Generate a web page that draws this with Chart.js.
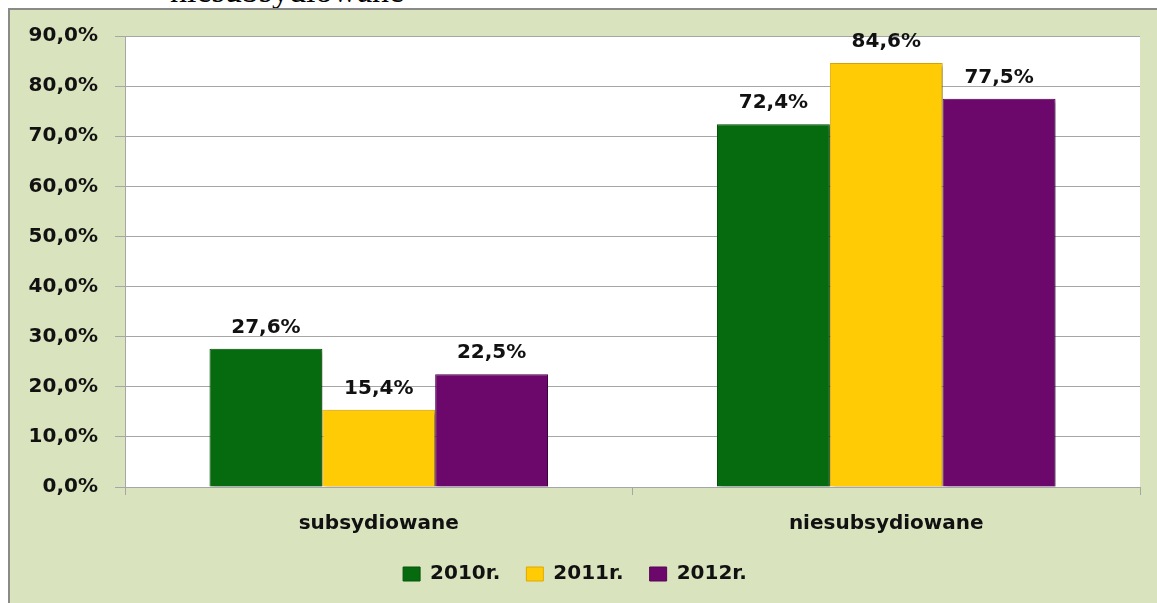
<!DOCTYPE html>
<html>
<head>
<meta charset="utf-8">
<script src="https://cdn.jsdelivr.net/npm/chart.js@4.4.1/dist/chart.umd.min.js"></script>
<style>
  html, body { margin: 0; padding: 0; background: #fff; overflow: hidden; }
  body { width: 1157px; height: 603px; position: relative; }
  #cut-title {
    position: absolute; left: 170px; top: -26px;
    font: 34px "Liberation Serif", serif; line-height: 1; color: #000;
    white-space: nowrap;
  }
  #box {
    position: absolute; left: 8px; top: 8px; width: 1147px; height: 593px;
    background: #d9e4bf; border-left: 2px solid #8a8a8a; border-top: 2px solid #8a8a8a;
  }
  #box canvas { display: block; }
</style>
</head>
<body>
<div id="cut-title">niesubsydiowane</div>
<div id="box"><canvas id="myChart" width="1147" height="593"></canvas></div>
<script>
// data
const categories = ['subsydiowane', 'niesubsydiowane'];
const years = ['2010r.', '2011r.', '2012r.'];
const values2010 = [27.6, 72.4];
const values2011 = [15.4, 84.6];
const values2012 = [22.5, 77.5];
const yTicks = [0, 10, 20, 30, 40, 50, 60, 70, 80, 90];

const FONT = 'DejaVu Sans';

function pct(v) {
    return v.toFixed(1).replace('.', ',') + '%';
}

// white plot area + soft bar shadow
const plotBg = {
    id: 'plotBg',
    beforeDraw(chart) {
        const { ctx, chartArea: a } = chart;
        ctx.save();
        ctx.fillStyle = '#ffffff';
        ctx.fillRect(a.left, a.top, a.right - a.left, a.bottom - a.top);
        ctx.restore();
    },
    beforeDatasetsDraw(chart) {
        const ctx = chart.ctx;
        ctx.save();
        ctx.shadowColor = 'rgba(0,0,0,0.35)';
        ctx.shadowOffsetX = 3;
        ctx.shadowOffsetY = 2;
        ctx.shadowBlur = 4;
    },
    afterDatasetsDraw(chart) {
        chart.ctx.restore();
    }
};

// value labels above the bars
const valueLabels = {
    id: 'valueLabels',
    afterDraw(chart) {
        const ctx = chart.ctx;
        ctx.save();
        ctx.font = 'bold 20px ' + FONT;
        ctx.fillStyle = '#111';
        ctx.textAlign = 'center';
        ctx.textBaseline = 'alphabetic';
        chart.data.datasets.forEach((ds, i) => {
            chart.getDatasetMeta(i).data.forEach((bar, j) => {
                ctx.fillText(pct(ds.data[j]), bar.x, bar.y - 16);
            });
        });
        ctx.restore();
    }
};

const ctx = document.getElementById('myChart').getContext('2d');
const myChart = new Chart(ctx, {
    type: 'bar',
    data: {
        labels: categories,
        datasets: [
            { label: years[0], data: values2010, backgroundColor: '#066b0e', borderColor: '#04550a', borderWidth: 1 },
            { label: years[1], data: values2011, backgroundColor: '#ffcb05', borderColor: '#e0a800', borderWidth: 1 },
            { label: years[2], data: values2012, backgroundColor: '#6c086b', borderColor: '#560556', borderWidth: 1 }
        ]
    },
    options: {
        responsive: false,
        animation: false,
        datasets: {
            bar: { barPercentage: 1, categoryPercentage: 0.667 }
        },
        layout: { padding: { left: 0, right: 17, top: 26, bottom: 9 } },
        scales: {
            y: {
                min: 0,
                max: 90,
                afterBuildTicks(scale) {
                    scale.ticks = yTicks.map(v => ({ value: v }));
                },
                afterFit(scale) {
                    scale.width = 115;
                    scale.paddingTop = 0;
                    scale.paddingBottom = 0;
                },
                grid: { color: '#a6a6a6', lineWidth: 1, tickLength: 10 },
                border: { color: '#a6a6a6' },
                ticks: {
                    padding: 17,
                    color: '#111',
                    font: { family: FONT, size: 20, weight: 'bold' },
                    callback: v => pct(v)
                }
            },
            x: {
                afterFit(scale) { scale.height = 51; },
                grid: { drawOnChartArea: false, tickLength: 8, color: '#a6a6a6' },
                border: { color: '#a6a6a6' },
                ticks: {
                    padding: 17,
                    color: '#111',
                    font: { family: FONT, size: 20, weight: 'bold' }
                }
            }
        },
        plugins: {
            legend: {
                position: 'bottom',
                labels: {
                    boxWidth: 17,
                    boxHeight: 14,
                    padding: 26,
                    color: '#111',
                    font: { family: FONT, size: 20, weight: 'bold' }
                }
            },
            tooltip: { enabled: false }
        }
    },
    plugins: [plotBg, valueLabels]
});
</script>
</body>
</html>
